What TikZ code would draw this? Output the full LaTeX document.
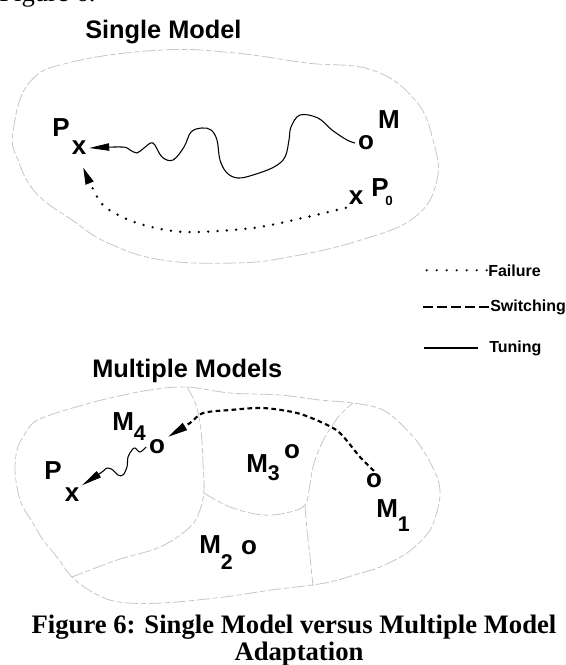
\documentclass[tikz,border=0pt]{standalone}
\usepackage{fontspec}
\setmainfont{Liberation Serif}
\setsansfont{Liberation Sans}
\usetikzlibrary{arrows.meta}

\newcommand{\msub}[2]{M\raisebox{-#2}{\fontsize{16}{16}\selectfont #1}}

\begin{document}
\begin{tikzpicture}[x=0.75pt,y=-0.75pt,
    lbl/.style={font=\sffamily\bfseries\fontsize{19.5}{21}\selectfont, inner sep=2pt},
    sublbl/.style={lbl, inner sep=0pt, anchor=base west},
    ttl/.style={font=\sffamily\bfseries\fontsize{19}{21}\selectfont, inner sep=0pt, anchor=base west},
    leg/.style={font=\sffamily\bfseries\fontsize{12}{13}\selectfont, inner sep=0pt, anchor=base west},
    capline/.style={font=\bfseries\fontsize{20}{22}\selectfont, inner sep=0pt, anchor=base},
    region/.style={draw=gray!45, line width=0.6pt, dash pattern=on 10pt off 2pt on 4pt off 2pt},
    tuning/.style={line width=0.8pt, -{Triangle[length=15pt,width=5.5pt]}},
    failure/.style={line width=2pt, line cap=round, dash pattern=on 0pt off 7pt, -{Triangle[length=13pt,width=6pt]}},
    switching/.style={line width=1.6pt, dash pattern=on 3.5pt off 2.5pt, -{Triangle[length=15pt,width=6pt]}},
    legdot/.style={line width=1.7pt, line cap=round, dash pattern=on 0pt off 7.5pt},
    legdash/.style={line width=1.6pt, dash pattern=on 7pt off 3.5pt},
    legline/.style={line width=1.2pt}]
    \useasboundingbox (0,0) rectangle (566,665);

    % Clipped heading at the top
    \node[font=\fontsize{20}{22}\selectfont, inner sep=0pt, anchor=base west] (fig) at (-1,1) {Figure 6.};

    % Single model
    \node[ttl] (single) at (85,38) {Single Model};
    \draw[region] plot[smooth cycle, tension=0.7] coordinates {(13,133) (29,83) (72,62) (162,50) (235,53) (307,63) (372,70) (415,100) (433,140) (437,180) (415,217) (361,240) (289,257) (235,263) (162,260) (108,243) (72,220) (36,193) (18,160)};

    \node[lbl] (tp) at (61,128) {P};
    \node[lbl] (tpx) at (79,148) {x};
    \node[lbl] (tmo) at (366,143) {o};
    \node[lbl] (tm) at (389,120) {M};
    \node[lbl] (tp0x) at (356,198) {x};
    \node[sublbl] (tp0) at (371,196) {P\kern-.12em\raisebox{-7pt}{\fontsize{10}{10}\selectfont 0}};

    % Tuning and failure paths
    \draw[tuning] plot[smooth, tension=0.6] coordinates {(tmo.west) (347,140) (332,130) (318,118) (300,115) (291,127) (289,140) (285,157) (274,167) (253,175) (238,178) (227,173) (220,160) (217,140) (211,130) (202,128) (191,132) (184,147) (173,160) (162,157) (153,143) (144,148) (137,153) (130,150) (122,147) (tpx.east)};
    \draw[failure] plot[smooth] coordinates {(tp0x.south west) (307,217) (253,228) (184,232) (137,223) (105,207) (92,187) ([shift={(3pt,-7pt)}]tpx.south)};

    % Legend
    \node[leg] (failtxt) at (488,276) {Failure};
    \node[leg] (switchtxt) at (490,311) {Switching};
    \node[leg] (tunetxt) at (489,352) {Tuning};
    \draw[legdot] ([xshift=-1pt]failtxt.west) -- ++(-64,0);
    \draw[legdash] ([xshift=-1pt]switchtxt.west) -- ++(-70,0);
    \draw[legline] ([xshift=-8pt]tunetxt.west) -- ++(-54,0);

    % Multiple models
    \node[ttl] (multi) at (92,377) {Multiple Models};
    \draw[region] plot[smooth cycle, tension=0.6] coordinates {(15,470) (17,450) (23,437) (33,423) (50,415) (83,405) (110,398) (150,390) (187,387) (230,393) (280,395) (320,400) (353,403) (383,410) (407,430) (423,450) (437,477) (440,495) (436,515) (428,533) (407,553) (380,567) (361,573) (325,583) (271,590) (224,597) (162,603) (119,602) (94,593) (72,577) (57,557) (43,540) (33,523) (23,507) (18,492)};
    \draw[region] plot[smooth, tension=0.6] coordinates {(187,387) (196,405) (201,430) (203,463) (204,490) (200,510) (190,527) (160,547) (117,560) (72,577)};
    \draw[region] plot[smooth, tension=0.6] coordinates {(204,493) (230,507) (263,515) (290,512) (305,505) (309,490) (313,467) (320,447) (328,432) (340,415) (353,403)};
    \draw[region] plot[smooth, tension=0.6] coordinates {(305,505) (307,530) (310,557) (313,586)};

    \node[lbl] (bp) at (53,471) {P};
    \node[lbl] (bpx) at (72,495) {x};
    \node[lbl] (m4o) at (157,447) {o};
    \node[sublbl] (m4) at (112,430) {\msub{4}{7.5pt}};
    \node[lbl] (m3o) at (292,452) {o};
    \node[sublbl] (m3) at (246,472) {\msub{3}{6pt}};
    \node[lbl] (m2o) at (249,548) {o};
    \node[sublbl] (m2) at (199,553) {\msub{2}{12.5pt}};
    \node[lbl] (m1o) at (374,481) {o};
    \node[sublbl] (m1) at (376,517) {\msub{1}{11pt}};

    % Switching and tuning paths
    \draw[switching] plot[smooth] coordinates {(m1o.north) (360,457) (340,433) (323,423) (297,413) (263,408) (230,410) (203,413) (190,423) (m4o.north east)};
    \draw[tuning] plot[smooth, tension=0.6] coordinates {(m4o.west) (140,452) (135,448) (132,450) (128,457) (127,467) (123,475) (118,475) (113,470) (107,468) (102,472) (bpx.north east)};

    % Caption
    \node[capline] (cap1) at (294,633) {Figure 6: Single Model versus Multiple Model};
    \node[capline] (cap2) at (299,660) {Adaptation};
\end{tikzpicture}
\end{document}
